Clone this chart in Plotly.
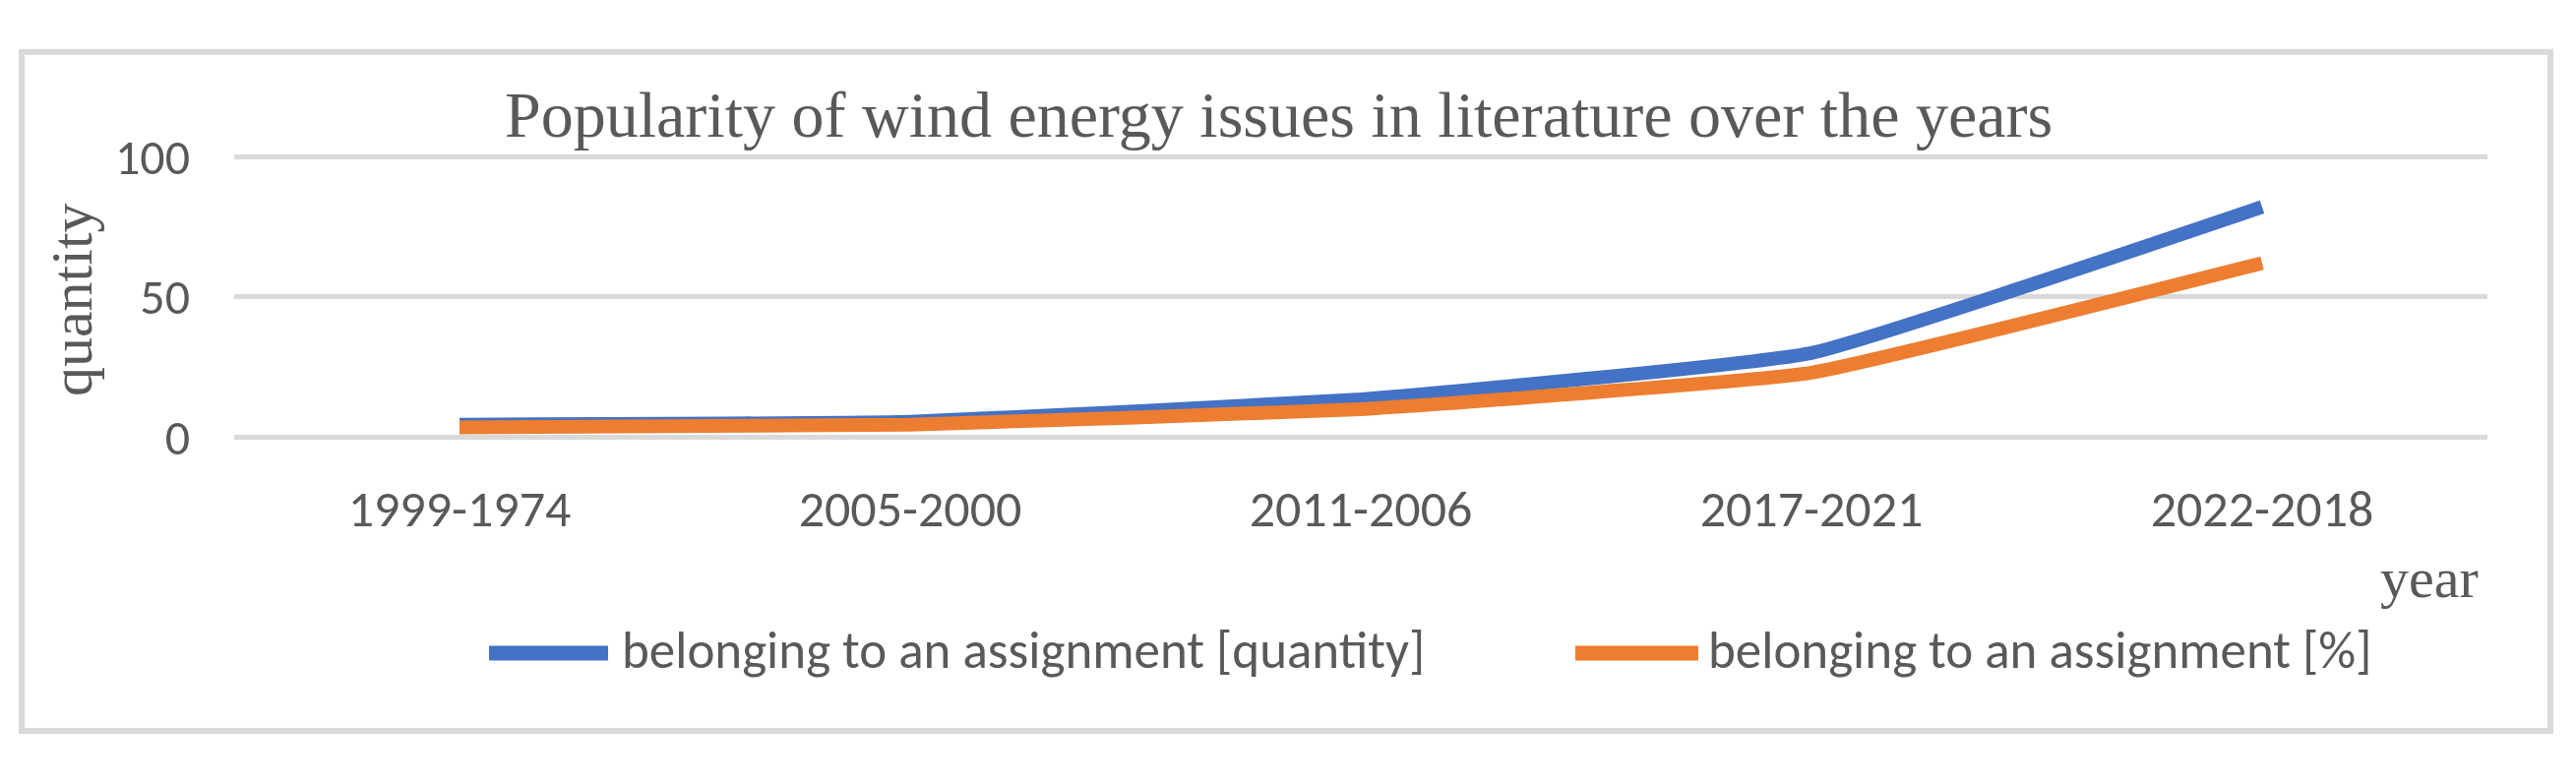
import plotly.graph_objects as go

# ---- data ----
categories = ["1999-1974", "2005-2000", "2011-2006", "2017-2021", "2022-2018"]
series_names = ["belonging to an assignment [quantity]", "belonging to an assignment [%]"]
quantity_values = [4.5, 5.5, 13.5, 30, 82]
percent_values = [3.5, 4.5, 10, 23, 62]
y_tick_values = [0, 50, 100]
y_tick_labels = ["0", "50", "100"]
title_text = "Popularity of wind energy issues in literature over the years"
y_title = "quantity"
x_title = "year"

W, H = 2618, 796
BLUE = "#4472C4"
ORANGE = "#ED7D31"
GREY_TXT = "#595959"
GRID = "#D9D9D9"
SERIF = "Book Antiqua, Palatino Linotype, Liberation Serif, serif"
SANS = "Calibri, Carlito, Lato, sans-serif"

def px_x(x):
    return x / W

def px_y(y):
    return (H - y) / H

# plot area in pixels
PL, PR = 238, 2528
PT, PB = 141, 448
unit = (PB - PT) / 100.0
ext = 1.0
top_px = PT - ext * unit
bot_px = PB + ext * unit

fig = go.Figure()
fig.add_trace(go.Scatter(
    x=categories, y=quantity_values, mode="lines", name=series_names[0],
    line=dict(color=BLUE, width=14, shape="spline", smoothing=0.35),
    showlegend=False,
))
fig.add_trace(go.Scatter(
    x=categories, y=percent_values, mode="lines", name=series_names[1],
    line=dict(color=ORANGE, width=14, shape="spline", smoothing=0.35),
    showlegend=False,
))

fig.update_layout(
    width=W, height=H,
    margin=dict(l=0, r=0, t=0, b=0),
    paper_bgcolor="white", plot_bgcolor="white",
    showlegend=False,
    xaxis=dict(
        domain=[px_x(PL), px_x(PR)],
        type="category",
        range=[-0.5, len(categories) - 0.5],
        showgrid=False, zeroline=False, showline=False,
        ticks="", ticklabelstandoff=35,
        tickfont=dict(family=SANS, size=52, color=GREY_TXT),
    ),
    yaxis=dict(
        domain=[px_y(bot_px), px_y(top_px)],
        range=[-ext, 100 + ext],
        tickvals=y_tick_values, ticktext=y_tick_labels,
        showgrid=True, gridcolor=GRID, gridwidth=5,
        zeroline=False, showline=False,
        ticks="", ticklabelstandoff=44,
        tickfont=dict(family=SANS, size=50, color=GREY_TXT),
    ),
)

annotations = [
    dict(text=title_text, x=px_x(1299), y=px_y(95), xref="paper", yref="paper",
         xanchor="center", yanchor="middle", showarrow=False,
         font=dict(family=SERIF, size=66, color=GREY_TXT)),
    dict(text=y_title, x=px_x(73), y=px_y(298), xref="paper", yref="paper",
         xanchor="center", yanchor="middle", textangle=-90, showarrow=False,
         font=dict(family=SERIF, size=60, color=GREY_TXT)),
    dict(text=x_title, x=px_x(2521), y=px_y(602), xref="paper", yref="paper",
         xanchor="right", yanchor="middle", showarrow=False,
         font=dict(family=SERIF, size=58, color=GREY_TXT)),
]

# custom legend (long line samples as in the original)
legend_items = [
    (series_names[0], BLUE, 497, 618, 630),
    (series_names[1], ORANGE, 1601, 1726, 1734),
]
shapes = []
LEG_Y = 684
for name, col, x0, x1, tx in legend_items:
    shapes.append(dict(type="line", xref="paper", yref="paper",
                       x0=px_x(x0), x1=px_x(x1), y0=px_y(LEG_Y), y1=px_y(LEG_Y),
                       line=dict(color=col, width=15)))
    annotations.append(dict(text=name, x=px_x(tx), y=px_y(LEG_Y - 3), xref="paper", yref="paper",
                            xanchor="left", yanchor="middle", showarrow=False,
                            font=dict(family=SANS, size=53, color=GREY_TXT)))

# chart border
shapes.append(dict(type="rect", xref="paper", yref="paper",
                   x0=px_x(22), x1=px_x(2592), y0=px_y(769), y1=px_y(26.5),
                   line=dict(color=GRID, width=6), layer="below"))

fig.update_layout(annotations=annotations, shapes=shapes)

fig.write_html("out.html", config={"displayModeBar": False},
               post_script="document.body.style.margin='0';")
